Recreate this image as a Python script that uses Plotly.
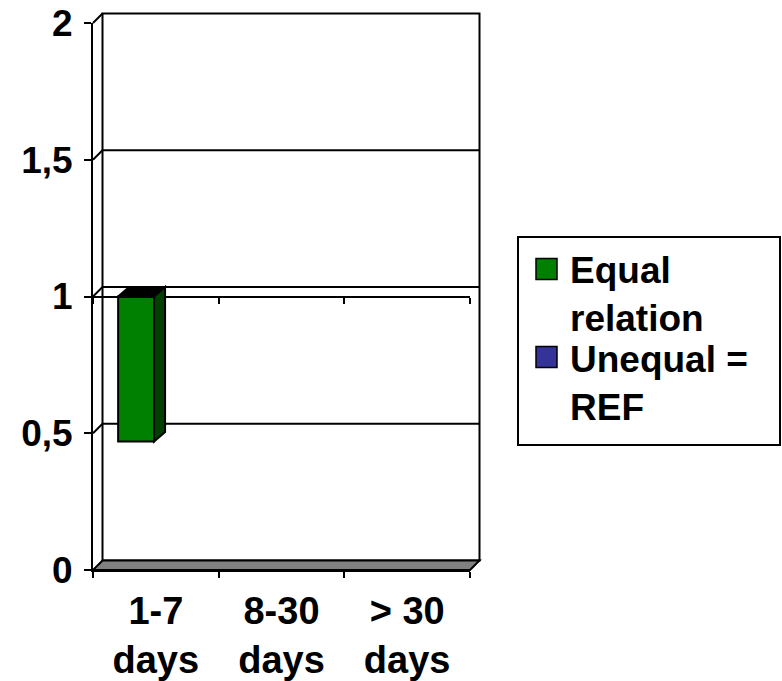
import plotly.graph_objects as go

# ---- data -------------------------------------------------------------
categories = ["1-7<br>days", "8-30<br>days", "> 30<br>days"]
series_names = ["Equal<br>relation", "Unequal =<br>REF"]
equal_relation = [0.47, None, None]
unequal_ref = [1, 1, 1]
y_tick_values = [0, 0.5, 1, 1.5, 2]
y_tick_labels = ["0", "0,5", "1", "1,5", "2"]
reference_level = 1  # the category axis crosses the value axis here

# ---- style ------------------------------------------------------------
GREEN = "#008000"
GREEN_SIDE = "#004000"
BAR_TOP = "#000000"
BLUE = "#333399"
FLOOR = "#808080"
FAMILY = "Liberation Sans, Arial, sans-serif"
FONT = dict(family=FAMILY, size=37, color="black", weight="bold")
XFONT = dict(family=FAMILY, size=38, color="black", weight="bold")

W, H = 782, 681
ML, MR, MT, MB = 93, 312, 23, 111
PW, PH = W - ML - MR, H - MT - MB

X_RANGE = [-0.5, 2.5]
Y_RANGE = [0, 2]

WALL_DX, WALL_DY = 9.5, 9.5      # depth of the chart box (px)
BAR_DX, BAR_DY = 11, 9.5         # depth of a column (px)
BAR_WIDTH = 0.286
BAR_OFFSETS = [-0.30, -0.014]

px_per_cat = PW / (X_RANGE[1] - X_RANGE[0])
px_per_val = PH / (Y_RANGE[1] - Y_RANGE[0])
bar_dx = BAR_DX / px_per_cat
bar_dy = BAR_DY / px_per_val
wall_dx = WALL_DX / PW
wall_dy = WALL_DY / PH


def vdom(v):
    return (v - Y_RANGE[0]) / (Y_RANGE[1] - Y_RANGE[0])


def paper_x(px):
    return (px - ML) / PW


def paper_y(py):
    return (H - MB - py) / PH


def bar_outline(values):
    # columns that sit exactly on the reference level have no height: draw no outline
    return [0 if (v is None or v == reference_level) else 2 for v in values]


fig = go.Figure()

fig.add_trace(go.Bar(
    x=categories,
    y=[None if v is None else v - reference_level for v in equal_relation],
    base=reference_level, width=BAR_WIDTH, offset=BAR_OFFSETS[0],
    marker=dict(color=GREEN, line=dict(color="black", width=bar_outline(equal_relation))),
    name="Equal relation", showlegend=False, xaxis="x", yaxis="y",
))
fig.add_trace(go.Bar(
    x=categories,
    y=[None if v is None else v - reference_level for v in unequal_ref],
    base=reference_level, width=BAR_WIDTH, offset=BAR_OFFSETS[1],
    marker=dict(color=BLUE, line=dict(color="black", width=bar_outline(unequal_ref))),
    name="Unequal = REF", showlegend=False, xaxis="x2", yaxis="y",
))

shapes = []
line_k = dict(color="black", width=2)
dom = dict(xref="x domain", yref="y domain", layer="below")

# back wall
shapes.append(dict(type="rect", x0=wall_dx, x1=1 + wall_dx, y0=wall_dy, y1=1 + wall_dy,
                   fillcolor="white", line=line_k, **dom))
# gridlines on the back wall and the side wall
for v in y_tick_values[1:]:
    d = vdom(v)
    if v < Y_RANGE[1]:
        shapes.append(dict(type="line", x0=wall_dx, x1=1 + wall_dx, y0=d + wall_dy, y1=d + wall_dy,
                           line=line_k, **dom))
    shapes.append(dict(type="line", x0=0, x1=wall_dx, y0=d, y1=d + wall_dy, line=line_k, **dom))
# floor
shapes.append(dict(type="path",
                   path=f"M 0,0 L 1,0 L {1 + wall_dx},{wall_dy} L {wall_dx},{wall_dy} Z",
                   fillcolor=FLOOR, line=line_k, **dom))

# 3D faces of the columns
for series, off, col in [(equal_relation, BAR_OFFSETS[0], GREEN_SIDE),
                         (unequal_ref, BAR_OFFSETS[1], BLUE)]:
    for i, v in enumerate(series):
        if v is None or v == reference_level:
            continue
        hi, lo = max(v, reference_level), min(v, reference_level)
        x0 = i + off
        x1 = x0 + BAR_WIDTH
        shapes.append(dict(type="path", xref="x", yref="y", layer="above",
                           path=f"M {x0},{hi} L {x1},{hi} L {x1 + bar_dx},{hi + bar_dy} "
                                f"L {x0 + bar_dx},{hi + bar_dy} Z",
                           fillcolor=BAR_TOP, line=line_k))
        shapes.append(dict(type="path", xref="x", yref="y", layer="above",
                           path=f"M {x1},{hi} L {x1 + bar_dx},{hi + bar_dy} "
                                f"L {x1 + bar_dx},{lo + bar_dy} L {x1},{lo} Z",
                           fillcolor=col, line=line_k))

# legend
shapes.append(dict(type="rect", xref="paper", yref="paper",
                   x0=paper_x(518), x1=paper_x(780), y0=paper_y(445), y1=paper_y(237),
                   fillcolor="white", line=line_k))
legend_rows = [269, 357]
annotations = []
for name, color, yc, yt in zip(series_names, [GREEN, BLUE], legend_rows, [294, 383]):
    shapes.append(dict(type="rect", xref="paper", yref="paper",
                       x0=paper_x(536), x1=paper_x(557), y0=paper_y(yc + 10.5), y1=paper_y(yc - 10.5),
                       fillcolor=color, line=dict(color="black", width=1.5)))
    annotations.append(dict(xref="paper", yref="paper", x=paper_x(568), y=paper_y(yt),
                            xanchor="left", yanchor="middle", align="left",
                            text=name, showarrow=False, font=FONT))

axis_common = dict(type="category", range=X_RANGE, categoryorder="array", categoryarray=categories,
                   tickson="boundaries", ticks="outside", ticklen=6, tickwidth=2, tickcolor="black",
                   showline=True, linecolor="black", linewidth=2, showgrid=False, zeroline=False,
                   automargin=False)

fig.update_layout(
    width=W, height=H,
    margin=dict(l=ML, r=MR, t=MT, b=MB, autoexpand=False),
    paper_bgcolor="white", plot_bgcolor="rgba(0,0,0,0)",
    barmode="overlay",
    showlegend=False,
    font=FONT,
    xaxis=dict(**axis_common, tickfont=XFONT, ticklabelstandoff=6),
    xaxis2=dict(**axis_common, overlaying="x", anchor="free", side="bottom",
                position=vdom(reference_level), showticklabels=False),
    yaxis=dict(range=Y_RANGE, tickmode="array", tickvals=y_tick_values, ticktext=y_tick_labels,
               ticks="outside", ticklen=7, tickwidth=2, tickcolor="black",
               showline=True, linecolor="black", linewidth=2, showgrid=False, zeroline=False,
               tickfont=FONT, ticklabelstandoff=4, automargin=False),
    shapes=shapes,
    annotations=annotations,
)

fig.write_html("out.html")
